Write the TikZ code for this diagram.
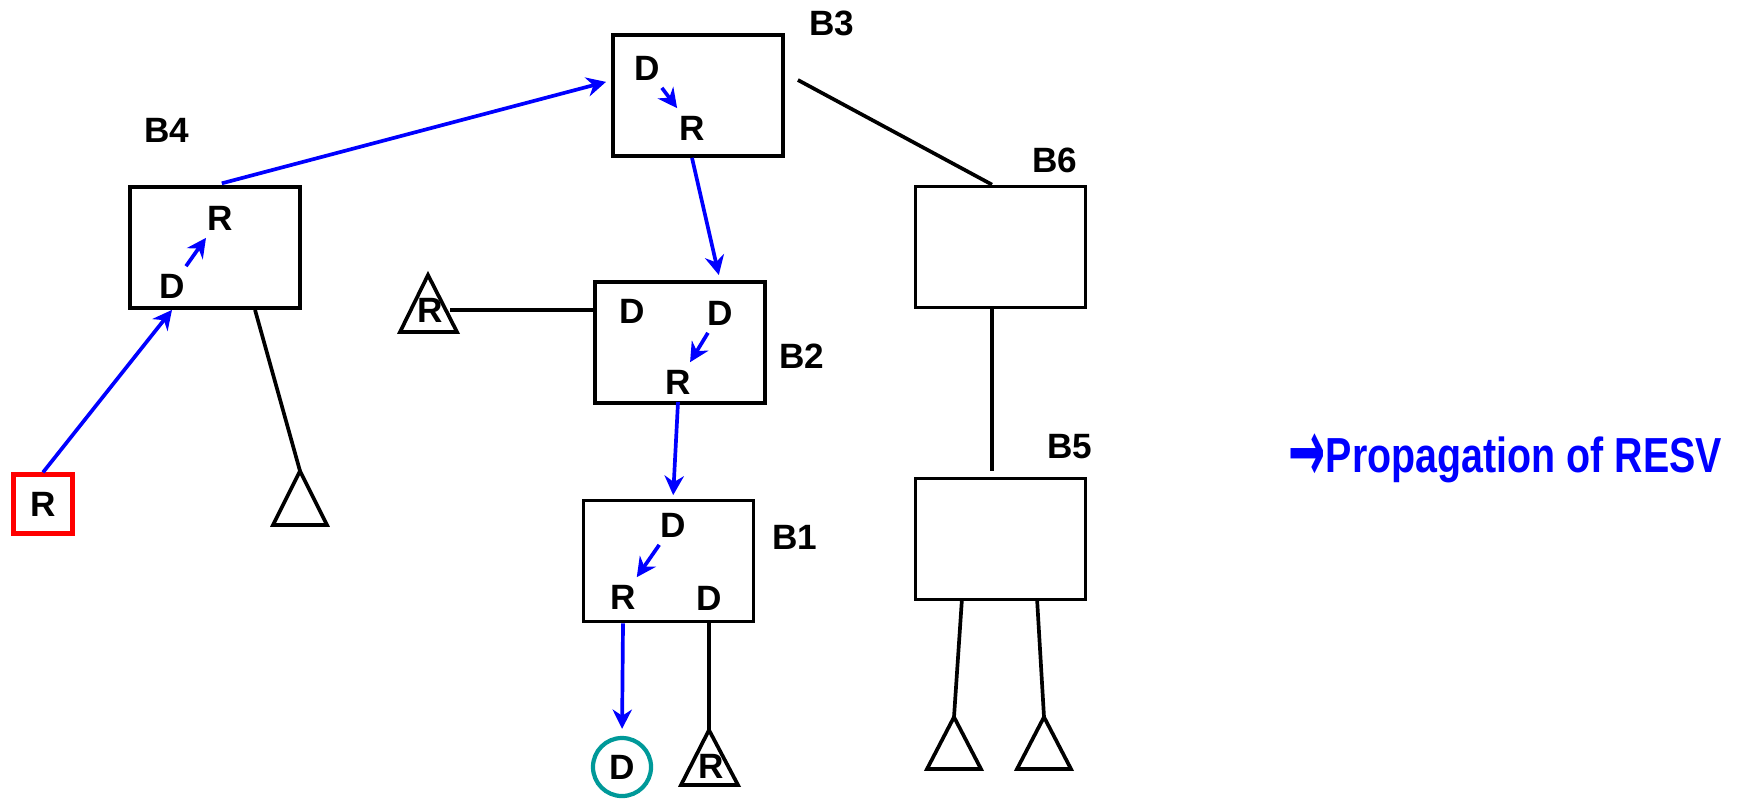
\documentclass[tikz,border=0pt]{standalone}
\usepackage{fontspec}
\setmainfont{Liberation Sans}
\newfontfamily\arrowfont{DejaVu Sans}
\usetikzlibrary{calc,arrows.meta}
\definecolor{tealring}{RGB}{0,153,153}
\tikzset{>={Stealth[length=5.5pt,width=5.5pt]}}
\tikzset{
  blk/.style={draw,line width=1.05pt,minimum width=1.7cm,minimum height=1.21cm},
  lbl/.style={font=\fontsize{10}{12}\selectfont\bfseries,inner sep=2pt},
  prop/.style={blue,line width=1.05pt},
  leaf/.style={line width=1.05pt},
}
\begin{document}
\begin{tikzpicture}[x=0.01cm,y=-0.01cm]
    \useasboundingbox (0,0) rectangle (1743,799);
    \node[blk] (b4) at (215,247.5) {};
    \node[blk] (b3) at (698,95.5) {};
    \node[blk] (b2) at (680,342.5) {};
    \node[blk] (b1) at (668.5,561) {};
    \node[blk] (b6) at (1000.5,247) {};
    \node[blk] (b5) at (1000.5,539) {};
    \node[lbl] (n4) at (167,130) {B4};
    \node[lbl] (n3) at (832,23) {B3};
    \node[lbl] (n2) at (802,356) {B2};
    \node[lbl] (n1) at (795,537) {B1};
    \node[lbl] (n6) at (1055,160) {B6};
    \node[lbl] (n5) at (1070,447) {B5};
    \node[lbl] (b4r) at (220,218) {R};
    \node[lbl] (b4d) at (172,286) {D};
    \node[lbl] (b3d) at (647,68) {D};
    \node[lbl] (b3r) at (692,128) {R};
    \node[lbl] (b2dl) at (632,311) {D};
    \node[lbl] (b2dd) at (720,313) {D};
    \node[lbl] (b2r) at (678,382) {R};
    \node[lbl] (b1d) at (673,525) {D};
    \node[lbl] (b1r) at (623,597) {R};
    \node[lbl] (b1dd) at (709,598) {D};
    \node[lbl,draw=red,line width=1.2pt,minimum size=0.59cm] (src) at (43,504) {R};
    \node[lbl,circle,draw=tealring,line width=1.2pt,minimum size=0.58cm] (sink) at (622,767) {D};
    \coordinate (t4) at (300,471);
    \coordinate (t2) at (428,275);
    \coordinate (t1) at (709,730);
    \coordinate (t5a) at (954,717);
    \coordinate (t5b) at (1044,717);
    \draw[leaf] (t4) -- ++(-27,54) -- ++(54,0) -- cycle;
    \draw[leaf] (t2) -- ++(-28,57) -- ++(57,0) -- cycle;
    \draw[leaf] (t1) -- ++(-28,55) -- ++(57,0) -- cycle;
    \draw[leaf] (t5a) -- ++(-27,52) -- ++(54,0) -- cycle;
    \draw[leaf] (t5b) -- ++(-27,52) -- ++(54,0) -- cycle;
    \node[lbl] (lr2) at (430,310) {R};
    \node[lbl] (lr1) at (711,766) {R};
    \draw[prop,->] (src.north) -- (b4.south -| b4d);
    \draw[prop,->] (b4d) -- (b4r);
    \draw[prop,->,shorten <=0.07cm,shorten >=1.5pt] (b4.north) -- ($(b3.north west)!0.38!(b3.south west)$);
    \draw[prop,->] (b3d) -- (b3r);
    \draw[prop,->,shorten >=1.5pt] (b3.south -| b3r) -- (b2.north -| b2dd);
    \draw[prop,->] (b2dd) -- (b2r);
    \draw[prop,->,shorten >=1pt] (b2r.south) -- (b1.north -| b1d);
    \draw[prop,->] (b1d) -- (b1r);
    \draw[prop,->,shorten >=2pt] (b1.south -| b1r) -- (sink.north);
    \draw[leaf] ([xshift=0.4cm]b4.south) -- (t4);
    \draw[leaf] (lr2.east) -- (lr2.east -| b2.west);
    \draw[leaf] (b1.south -| b1dd) -- (t1);
    \draw[leaf] ([shift={(0.13cm,0.155cm)}]b3.east) -- ([xshift=-0.085cm]b6.north);
    \draw[leaf] ([xshift=-0.085cm]b6.south) -- ([xshift=-0.085cm,yshift=0.06cm]b5.north);
    \draw[leaf] ([xshift=-0.385cm,yshift=0.03cm]b5.south) -- (t5a);
    \draw[leaf] ([xshift=0.365cm,yshift=0.03cm]b5.south) -- (t5b);
    \node[anchor=base west,inner sep=0pt,text=blue,font=\fontsize{14}{16}\selectfont\bfseries] (legend) at (1288,472) {\raisebox{-0.2em}{\arrowfont\scalebox{0.9}[1.8]{→}}\scalebox{0.8}[1]{Propagation of RESV}};
\end{tikzpicture}
\end{document}
